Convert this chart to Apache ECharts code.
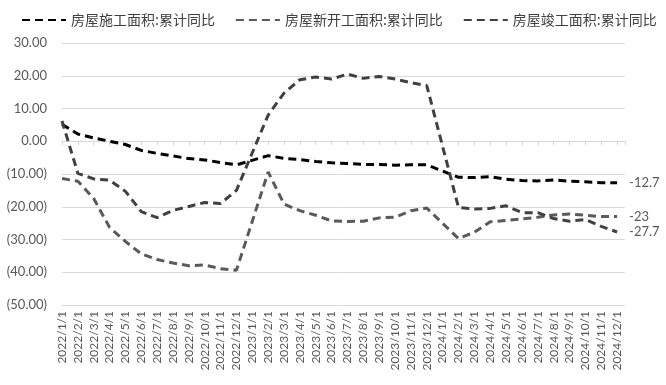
<!DOCTYPE html>
<html>
<head>
<meta charset="utf-8">
<script src="https://cdn.jsdelivr.net/npm/echarts@6/dist/echarts.min.js"></script>
<style>
html,body{margin:0;padding:0;background:#fff;}
#chart{width:666px;height:385px;}
</style>
</head>
<body>
<div id="chart"></div>
<script>
var categories = ['2022/1/1','2022/2/1','2022/3/1','2022/4/1','2022/5/1','2022/6/1','2022/7/1','2022/8/1','2022/9/1','2022/10/1','2022/11/1','2022/12/1',
  '2023/1/1','2023/2/1','2023/3/1','2023/4/1','2023/5/1','2023/6/1','2023/7/1','2023/8/1','2023/9/1','2023/10/1','2023/11/1','2023/12/1',
  '2024/1/1','2024/2/1','2024/3/1','2024/4/1','2024/5/1','2024/6/1','2024/7/1','2024/8/1','2024/9/1','2024/10/1','2024/11/1','2024/12/1'];
var seriesNames = ['房屋施工面积:累计同比','房屋新开工面积:累计同比','房屋竣工面积:累计同比'];
var construction = [5.2,2.2,1.0,0.0,-1.0,-2.8,-3.7,-4.5,-5.3,-5.7,-6.5,-7.2,
  null,-4.4,-5.2,-5.6,-6.2,-6.6,-6.8,-7.1,-7.1,-7.3,-7.2,-7.2,
  null,-11.0,-11.1,-10.8,-11.6,-12.0,-12.1,-11.8,-12.2,-12.4,-12.7,-12.7];
var newStarts = [-11.4,-12.2,-17.5,-26.3,-30.6,-34.4,-36.1,-37.2,-38.0,-37.8,-38.9,-39.4,
  null,-9.4,-19.2,-21.2,-22.6,-24.3,-24.5,-24.4,-23.4,-23.2,-21.2,-20.4,
  null,-29.7,-27.8,-24.6,-24.2,-23.7,-23.2,-22.5,-22.2,-22.6,-23.0,-23.0];
var completion = [6.2,-9.8,-11.5,-11.9,-15.3,-21.5,-23.3,-21.1,-19.9,-18.7,-19.0,-15.0,
  null,8.0,14.7,18.8,19.6,19.0,20.5,19.2,19.8,19.0,17.9,17.0,
  null,-20.2,-20.7,-20.5,-19.7,-21.8,-21.8,-23.6,-24.4,-23.9,-26.0,-27.7];
var yTicks = {min:-50, max:30, interval:10};

function pairs(arr){ return arr.map(function(v,i){ return [i, v]; }); }
function yFmt(v){
  if (v < 0) return '(' + Math.abs(v).toFixed(2) + ')';
  return v.toFixed(2);
}
var colors = ['#000000','#5a5a5a','#404040'];
var valuesList = [construction, newStarts, completion];

var chart = echarts.init(document.getElementById('chart'), null, {renderer:'canvas'});
var xCommon = {type:'value', min:0, max:35.5, interval:1, splitLine:{show:false}};
chart.setOption({
  animation:false,
  backgroundColor:'#fff',
  textStyle:{fontFamily:'Lato, "Noto Sans CJK SC", sans-serif'},
  legend:{
    left:16, top:8, width:700, itemGap:20, itemWidth:44, itemHeight:14,
    itemStyle:{opacity:0},
    textStyle:{fontSize:14, color:'#404040', fontFamily:'"Noto Sans CJK SC", sans-serif'},
    data:seriesNames
  },
  grid:{left:62, right:41, top:43, bottom:80, containLabel:false},
  xAxis:[
    Object.assign({}, xCommon, {
      position:'bottom',
      axisLine:{show:false, onZero:false},
      axisTick:{show:false},
      axisLabel:{show:true, rotate:90, margin:6, fontSize:12, color:'#595959', fontFamily:'Lato, sans-serif',
        showMaxLabel:false,
        formatter:function(v){ return categories[Math.round(v)] || ''; }}
    }),
    Object.assign({}, xCommon, {
      position:'bottom',
      axisLine:{show:true, onZero:true, lineStyle:{color:'#d9d9d9', width:1}},
      axisTick:{show:true, length:4, lineStyle:{color:'#d9d9d9'}},
      axisLabel:{show:false}
    })
  ],
  yAxis:{
    type:'value', min:yTicks.min, max:yTicks.max, interval:yTicks.interval,
    axisLine:{show:false}, axisTick:{show:false},
    splitLine:{lineStyle:{color:'#d9d9d9', width:1}},
    axisLabel:{formatter:yFmt, fontSize:13, color:'#595959', margin:15, fontFamily:'Lato, sans-serif'}
  },
  series: valuesList.map(function(vals, k){
    return {
      name:seriesNames[k], type:'line', xAxisIndex:0,
      data:pairs(vals), connectNulls:true, symbol:'none',
      color:colors[k],
      lineStyle:{color:colors[k], width:3, type:[8,5]},
      endLabel:{show:true, distance:12, fontSize:13, color:'#595959', fontFamily:'Lato, sans-serif',
        formatter:function(p){ return String(p.value[1]); }}
    };
  })
});
</script>
</body>
</html>
